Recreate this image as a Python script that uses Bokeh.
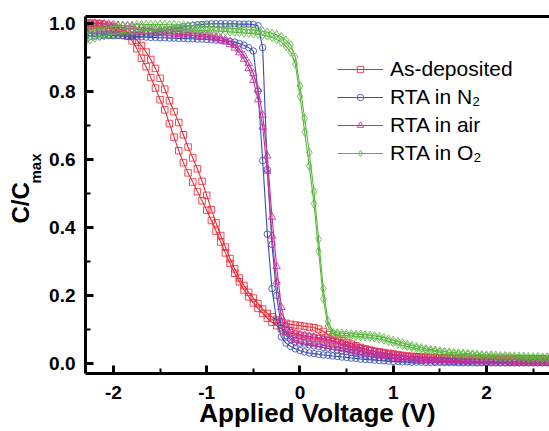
from bokeh.plotting import figure
from bokeh.models import Range1d, FixedTicker, Legend, LegendItem, LinearAxis, Title
from bokeh.embed import file_html
from bokeh.resources import INLINE

# ---------------- data ----------------
voltage = [
    -2.30, -2.25, -2.20, -2.15, -2.10, -2.05, -2.00, -1.95, -1.90, -1.85,
    -1.80, -1.75, -1.70, -1.65, -1.60, -1.55, -1.50, -1.45, -1.40, -1.35,
    -1.30, -1.25, -1.20, -1.15, -1.10, -1.05, -1.00, -0.95, -0.90, -0.85,
    -0.80, -0.75, -0.70, -0.65, -0.60, -0.55, -0.50, -0.45, -0.40, -0.35,
    -0.30, -0.25, -0.20, -0.15, -0.10, -0.05, 0.00, 0.05, 0.10, 0.15,
    0.20, 0.25, 0.30, 0.35, 0.40, 0.45, 0.50, 0.55, 0.60, 0.65,
    0.70, 0.75, 0.80, 0.85, 0.90, 0.95, 1.00, 1.05, 1.10, 1.15,
    1.20, 1.25, 1.30, 1.35, 1.40, 1.45, 1.50, 1.55, 1.60, 1.65,
    1.70, 1.75, 1.80, 1.85, 1.90, 1.95, 2.00, 2.05, 2.10, 2.15,
    2.20, 2.25, 2.30, 2.35, 2.40, 2.45, 2.50, 2.55, 2.60, 2.65,
    2.70,
]

asdep_sweep1 = [
    0.995, 0.995, 0.994, 0.992, 0.990, 0.987, 0.983, 0.978, 0.971, 0.961,
    0.948, 0.925, 0.897, 0.872, 0.840, 0.809, 0.775, 0.745, 0.705, 0.665,
    0.625, 0.590, 0.560, 0.533, 0.505, 0.478, 0.450, 0.420, 0.389, 0.357,
    0.325, 0.294, 0.265, 0.240, 0.216, 0.196, 0.178, 0.162, 0.147, 0.133,
    0.121, 0.111, 0.102, 0.095, 0.090, 0.086, 0.083, 0.080, 0.078, 0.075,
    0.073, 0.070, 0.067, 0.064, 0.060, 0.056, 0.053, 0.050, 0.047, 0.044,
    0.041, 0.038, 0.036, 0.034, 0.032, 0.030, 0.028, 0.026, 0.024, 0.022,
    0.021, 0.020, 0.019, 0.018, 0.017, 0.017, 0.016, 0.015, 0.015, 0.014,
    0.014, 0.013, 0.013, 0.013, 0.012, 0.012, 0.012, 0.012, 0.011, 0.011,
    0.011, 0.011, 0.011, 0.010, 0.010, 0.010, 0.010, 0.010, 0.010, 0.010,
    0.010,
]
asdep_sweep2 = [
    1.000, 1.000, 0.999, 0.998, 0.996, 0.993, 0.989, 0.984, 0.978, 0.971,
    0.962, 0.950, 0.934, 0.915, 0.893, 0.867, 0.838, 0.806, 0.772, 0.740,
    0.708, 0.672, 0.636, 0.604, 0.572, 0.535, 0.494, 0.452, 0.413, 0.376,
    0.342, 0.308, 0.278, 0.251, 0.229, 0.209, 0.192, 0.176, 0.160, 0.147,
    0.137, 0.129, 0.122, 0.118, 0.115, 0.113, 0.111, 0.109, 0.107, 0.105,
    0.101, 0.094, 0.085, 0.078, 0.072, 0.067, 0.062, 0.057, 0.052, 0.047,
    0.043, 0.039, 0.035, 0.031, 0.028, 0.026, 0.024, 0.022, 0.021, 0.020,
    0.019, 0.019, 0.018, 0.018, 0.017, 0.017, 0.017, 0.016, 0.016, 0.016,
    0.016, 0.016, 0.015, 0.015, 0.015, 0.015, 0.015, 0.015, 0.015, 0.015,
    0.015, 0.015, 0.014, 0.014, 0.014, 0.014, 0.014, 0.014, 0.014, 0.014,
    0.014,
]

n2_sweep1 = [
    0.975, 0.972, 0.970, 0.968, 0.967, 0.966, 0.965, 0.964, 0.963, 0.962,
    0.962, 0.961, 0.960, 0.959, 0.958, 0.958, 0.957, 0.957, 0.956, 0.956,
    0.955, 0.955, 0.954, 0.954, 0.953, 0.953, 0.952, 0.951, 0.950, 0.949,
    0.948, 0.946, 0.944, 0.940, 0.935, 0.928, 0.918, 0.800, 0.596, 0.380,
    0.220, 0.125, 0.078, 0.060, 0.050, 0.043, 0.038, 0.034, 0.031, 0.029,
    0.027, 0.025, 0.024, 0.022, 0.021, 0.019, 0.018, 0.016, 0.015, 0.013,
    0.012, 0.011, 0.010, 0.009, 0.008, 0.007, 0.006, 0.006, 0.005, 0.005,
    0.004, 0.004, 0.004, 0.003, 0.003, 0.003, 0.003, 0.003, 0.003, 0.003,
    0.002, 0.002, 0.002, 0.002, 0.002, 0.002, 0.002, 0.002, 0.002, 0.002,
    0.002, 0.002, 0.002, 0.002, 0.002, 0.002, 0.002, 0.002, 0.002, 0.002,
    0.002,
]
n2_sweep2 = [
    0.962, 0.962, 0.962, 0.962, 0.963, 0.963, 0.963, 0.964, 0.964, 0.965,
    0.965, 0.966, 0.967, 0.968, 0.970, 0.972, 0.975, 0.977, 0.980, 0.983,
    0.986, 0.989, 0.991, 0.993, 0.995, 0.996, 0.997, 0.998, 0.998, 0.998,
    0.998, 0.998, 0.998, 0.997, 0.997, 0.997, 0.996, 0.992, 0.928, 0.570,
    0.350, 0.200, 0.105, 0.082, 0.071, 0.064, 0.060, 0.057, 0.055, 0.052,
    0.050, 0.047, 0.045, 0.042, 0.040, 0.037, 0.035, 0.032, 0.030, 0.027,
    0.025, 0.022, 0.020, 0.018, 0.017, 0.015, 0.014, 0.013, 0.012, 0.011,
    0.010, 0.009, 0.009, 0.008, 0.008, 0.007, 0.007, 0.006, 0.006, 0.006,
    0.005, 0.005, 0.005, 0.005, 0.004, 0.004, 0.004, 0.004, 0.004, 0.004,
    0.003, 0.003, 0.003, 0.003, 0.003, 0.003, 0.003, 0.003, 0.003, 0.003,
    0.003,
]

air_sweep1 = [
    1.000, 1.000, 1.000, 0.999, 0.998, 0.997, 0.996, 0.994, 0.993, 0.991,
    0.990, 0.988, 0.987, 0.985, 0.984, 0.982, 0.981, 0.979, 0.978, 0.976,
    0.975, 0.973, 0.972, 0.970, 0.969, 0.967, 0.965, 0.963, 0.960, 0.956,
    0.952, 0.945, 0.935, 0.922, 0.905, 0.882, 0.852, 0.805, 0.730, 0.610,
    0.430, 0.285, 0.165, 0.112, 0.095, 0.089, 0.085, 0.083, 0.080, 0.078,
    0.076, 0.073, 0.070, 0.067, 0.064, 0.060, 0.056, 0.052, 0.049, 0.045,
    0.041, 0.038, 0.035, 0.032, 0.030, 0.027, 0.025, 0.023, 0.021, 0.019,
    0.017, 0.016, 0.015, 0.014, 0.013, 0.012, 0.011, 0.010, 0.010, 0.009,
    0.009, 0.008, 0.008, 0.008, 0.007, 0.007, 0.007, 0.006, 0.006, 0.006,
    0.006, 0.006, 0.005, 0.005, 0.005, 0.005, 0.005, 0.005, 0.005, 0.005,
    0.005,
]
air_sweep2 = [
    0.978, 0.977, 0.977, 0.976, 0.976, 0.975, 0.975, 0.974, 0.974, 0.973,
    0.973, 0.972, 0.972, 0.971, 0.971, 0.970, 0.970, 0.969, 0.969, 0.968,
    0.967, 0.966, 0.965, 0.964, 0.963, 0.962, 0.960, 0.957, 0.954, 0.950,
    0.945, 0.937, 0.927, 0.913, 0.894, 0.867, 0.832, 0.775, 0.695, 0.565,
    0.375, 0.240, 0.135, 0.090, 0.075, 0.068, 0.064, 0.061, 0.059, 0.057,
    0.055, 0.053, 0.051, 0.048, 0.046, 0.043, 0.040, 0.037, 0.034, 0.031,
    0.029, 0.026, 0.024, 0.022, 0.020, 0.018, 0.016, 0.015, 0.014, 0.013,
    0.012, 0.011, 0.010, 0.010, 0.009, 0.009, 0.008, 0.008, 0.007, 0.007,
    0.007, 0.006, 0.006, 0.006, 0.006, 0.005, 0.005, 0.005, 0.005, 0.005,
    0.005, 0.004, 0.004, 0.004, 0.004, 0.004, 0.004, 0.004, 0.004, 0.004,
    0.004,
]

o2_sweep1 = [
    0.945, 0.951, 0.956, 0.960, 0.963, 0.966, 0.968, 0.970, 0.972, 0.974,
    0.975, 0.976, 0.977, 0.978, 0.979, 0.979, 0.980, 0.980, 0.980, 0.980,
    0.980, 0.980, 0.980, 0.979, 0.979, 0.978, 0.978, 0.977, 0.977, 0.976,
    0.975, 0.974, 0.973, 0.972, 0.971, 0.970, 0.969, 0.967, 0.965, 0.962,
    0.958, 0.952, 0.944, 0.932, 0.915, 0.880, 0.785, 0.680, 0.580, 0.470,
    0.330, 0.190, 0.110, 0.088, 0.085, 0.083, 0.082, 0.081, 0.080, 0.079,
    0.078, 0.077, 0.075, 0.072, 0.069, 0.065, 0.061, 0.057, 0.053, 0.050,
    0.047, 0.044, 0.041, 0.039, 0.037, 0.035, 0.033, 0.031, 0.030, 0.028,
    0.027, 0.026, 0.025, 0.024, 0.023, 0.022, 0.021, 0.020, 0.019, 0.019,
    0.018, 0.017, 0.017, 0.016, 0.016, 0.015, 0.015, 0.014, 0.014, 0.013,
    0.013,
]
o2_sweep2 = [
    0.968, 0.974, 0.979, 0.983, 0.986, 0.988, 0.990, 0.991, 0.992, 0.993,
    0.994, 0.995, 0.995, 0.996, 0.996, 0.996, 0.996, 0.996, 0.995, 0.995,
    0.994, 0.994, 0.993, 0.993, 0.992, 0.991, 0.990, 0.989, 0.988, 0.987,
    0.986, 0.985, 0.984, 0.983, 0.982, 0.981, 0.980, 0.978, 0.976, 0.973,
    0.970, 0.966, 0.960, 0.950, 0.936, 0.900, 0.815, 0.720, 0.620, 0.505,
    0.365, 0.220, 0.125, 0.093, 0.090, 0.089, 0.088, 0.087, 0.086, 0.085,
    0.084, 0.083, 0.081, 0.079, 0.076, 0.072, 0.068, 0.064, 0.060, 0.056,
    0.052, 0.049, 0.046, 0.043, 0.041, 0.039, 0.037, 0.035, 0.033, 0.032,
    0.031, 0.030, 0.029, 0.028, 0.027, 0.026, 0.025, 0.025, 0.024, 0.023,
    0.023, 0.022, 0.022, 0.021, 0.021, 0.020, 0.020, 0.020, 0.019, 0.019,
    0.019,
]

series_names = ["As-deposited", "RTA in N\u2082", "RTA in air", "RTA in O\u2082"]
x_title = "Applied Voltage (V)"
y_title_main = "C/C"
y_title_sub = "max"
x_ticks = [-2, -1, 0, 1, 2]
x_tick_labels = ["-2", "-1", "0", "1", "2"]
x_minor_ticks = [-2.5, -1.5, -0.5, 0.5, 1.5, 2.5]
y_ticks = [0.0, 0.2, 0.4, 0.6, 0.8, 1.0]
y_tick_labels = ["0.0", "0.2", "0.4", "0.6", "0.8", "1.0"]
y_minor_ticks = [0.1, 0.3, 0.5, 0.7, 0.9]

# ---------------- figure ----------------
FONT = "Liberation Sans"
p = figure(width=549, height=431, output_backend="svg", toolbar_location=None,
           x_range=Range1d(-2.30, 2.676), y_range=Range1d(-0.0294, 1.0194),
           min_border_left=85, min_border_right=0, min_border_top=16,
           min_border_bottom=58)
p.background_fill_color = "white"
p.border_fill_color = "white"
p.outline_line_color = None
p.xgrid.visible = False
p.ygrid.visible = False

p.xaxis.ticker = FixedTicker(ticks=x_ticks, minor_ticks=x_minor_ticks)
p.yaxis.ticker = FixedTicker(ticks=y_ticks, minor_ticks=y_minor_ticks)
p.xaxis.major_label_overrides = {t: l for t, l in zip(x_ticks, x_tick_labels)}
p.yaxis.major_label_overrides = {t: l for t, l in zip(y_ticks, y_tick_labels)}

for ax in (p.xaxis[0], p.yaxis[0]):
    ax.axis_line_width = 3
    ax.axis_line_color = "black"
    ax.major_tick_in = 8
    ax.major_tick_out = 0
    ax.major_tick_line_width = 3
    ax.minor_tick_in = 5
    ax.minor_tick_out = 0
    ax.minor_tick_line_width = 2
    ax.major_label_text_font = FONT
    ax.major_label_text_font_style = "bold"
    ax.major_label_text_font_size = "19px"
    ax.major_label_text_color = "black"
    ax.axis_label_text_font = FONT
    ax.axis_label_text_font_style = "bold"
    ax.axis_label_text_color = "black"

p.xaxis.major_label_standoff = 12
p.yaxis.major_label_standoff = 10
p.xaxis.axis_label = x_title
p.xaxis.axis_label_text_font_size = "26px"
p.xaxis.axis_label_standoff = -4

# y title: "C/C" with subscript "max", as two titles in the left panel
sub_title = Title(text=y_title_sub, align="left", vertical_align="bottom",
                  offset=190, standoff=5, text_font=FONT,
                  text_font_style="bold", text_font_size="15px",
                  text_color="black")
p.add_layout(sub_title, "left")
try:
    main_title = Title(text=y_title_main, align="left", vertical_align="bottom",
                       offset=150, standoff=-22, text_font=FONT,
                       text_font_style="bold", text_font_size="24px",
                       text_color="black")
except Exception:
    main_title = Title(text=y_title_main, align="left", vertical_align="bottom",
                       offset=150, standoff=0, text_font=FONT,
                       text_font_style="bold", text_font_size="24px",
                       text_color="black")
p.add_layout(main_title, "left")

# thick top frame edge
top = LinearAxis(ticker=FixedTicker(ticks=[]), axis_line_width=3,
                 major_tick_in=0, major_tick_out=0, minor_tick_in=0,
                 minor_tick_out=0, major_label_standoff=0,
                 major_label_text_font_size="0px")
p.add_layout(top, "above")

colors = ["#ee2a36", "#3a4db0", "#c2309f", "#5ab63e"]
markers = ["square", "circle", "triangle", "diamond"]
sizes = [6.5, 6.5, 7.5, 8.5]
sweeps = [(asdep_sweep1, asdep_sweep2), (n2_sweep1, n2_sweep2),
          (air_sweep1, air_sweep2), (o2_sweep1, o2_sweep2)]

items = []
for name, col, mk, sz, (s1, s2) in zip(series_names, colors, markers, sizes, sweeps):
    rends = []
    for s in (s1, s2):
        ln = p.line(voltage, s, line_color=col, line_width=1.1)
        sc = p.scatter(voltage, s, marker=mk, size=sz, line_color=col,
                       fill_color=None, line_width=1, line_alpha=0.85)
        rends.append((ln, sc))
    items.append(LegendItem(label=name, renderers=[rends[0][0], rends[0][1]]))

legend = Legend(items=items, location=(252, 208), border_line_color=None,
                background_fill_alpha=0, padding=0, margin=0, spacing=4,
                glyph_width=46, glyph_height=16, label_height=24,
                label_standoff=7, label_text_font=FONT,
                label_text_font_size="21px", label_text_color="black")
p.add_layout(legend)

open("out.html", "w").write(file_html(p, INLINE))
